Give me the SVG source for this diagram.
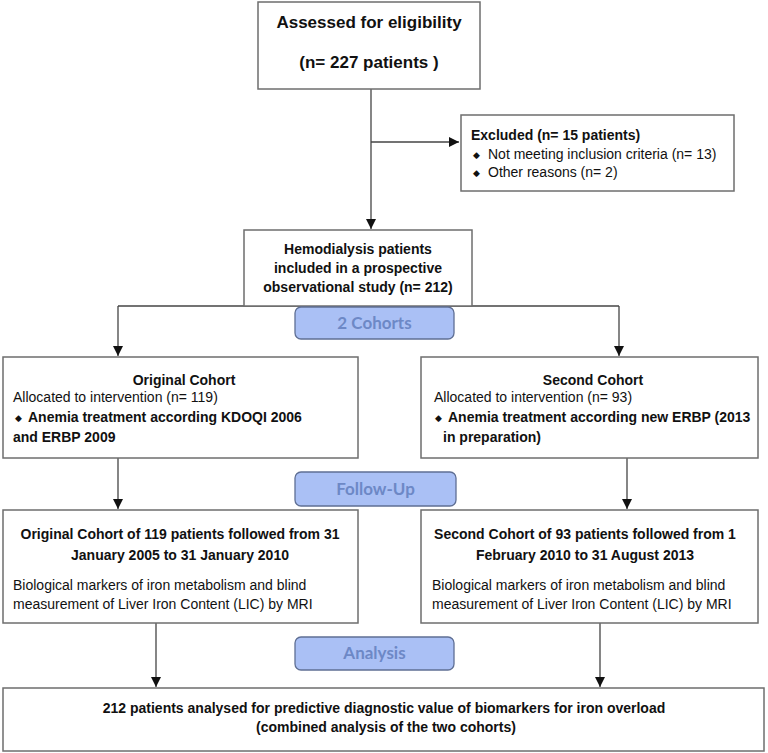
<svg xmlns="http://www.w3.org/2000/svg" width="768" height="753" viewBox="0 0 768 753">
<defs>
<marker id="ah" viewBox="0 0 10 10" refX="10" refY="5" markerWidth="10" markerHeight="10" markerUnits="userSpaceOnUse" orient="auto">
<path d="M0,0 L10,5 L0,10 Z" fill="#111"/>
</marker>
<style>
.box{fill:#fff;stroke:#6e6e6e;stroke-width:1.5}
.pill{fill:#aac0f5;stroke:#5f6f94;stroke-width:1.3}
.pt{font-family:Lato,"Open Sans",sans-serif;font-weight:bold;font-size:17px;fill:#6d88c6;text-anchor:middle}
.t{font-family:"Liberation Sans",Arial,sans-serif;font-size:14px;fill:#111}
.big{font-size:17px}
.bul{font-size:9px}
.b{font-weight:bold}
.c{text-anchor:middle}
.ln{fill:none;stroke:#444;stroke-width:1.3}
</style>
</defs>
<rect width="768" height="753" fill="#fff"/>
<g id="connectors">
<path class="ln" d="M371,89 V229" marker-end="url(#ah)"/>
<path class="ln" d="M371,142 H459" marker-end="url(#ah)"/>
<path class="ln" d="M118,306 H619"/>
<path class="ln" d="M118,306 V356" marker-end="url(#ah)"/>
<path class="ln" d="M619,306 V356" marker-end="url(#ah)"/>
<path class="ln" d="M118,458 V509" marker-end="url(#ah)"/>
<path class="ln" d="M627,458 V509" marker-end="url(#ah)"/>
<path class="ln" d="M156,623 V687" marker-end="url(#ah)"/>
<path class="ln" d="M600,623 V687" marker-end="url(#ah)"/>
</g>
<g id="assessed">
<rect class="box" x="258" y="2" width="222" height="87"/>
<text class="t b c big" x="369" y="28">Assessed for eligibility</text>
<text class="t b c big" x="369" y="68">(n= 227 patients )</text>
</g>
<g id="excluded">
<rect class="box" x="461" y="115" width="273" height="76"/>
<text class="t b" x="471" y="140">Excluded  (n= 15 patients)</text>
<text class="t bul" x="473" y="158">◆</text>
<text class="t" x="488" y="159">Not meeting inclusion criteria (n= 13)</text>
<text class="t bul" x="473" y="176">◆</text>
<text class="t" x="488" y="177">Other reasons (n= 2)</text>
</g>
<g id="hemodialysis">
<rect class="box" x="244" y="230" width="228" height="76"/>
<text class="t b c" x="358" y="254">Hemodialysis patients</text>
<text class="t b c" x="358" y="273">included in a prospective</text>
<text class="t b c" x="358" y="292">observational study (n= 212)</text>
</g>
<g id="cohorts-label">
<rect class="pill" x="295" y="307" width="159" height="32" rx="6"/>
<text class="pt" x="374.5" y="329">2 Cohorts</text>
</g>
<g id="original-cohort">
<rect class="box" x="3" y="357" width="355" height="101"/>
<text class="t b c" x="184" y="385">Original Cohort</text>
<text class="t" x="13" y="402">Allocated to intervention (n= 119)</text>
<text class="t bul" x="15" y="421">◆</text>
<text class="t b" x="28" y="422">Anemia treatment according KDOQI 2006</text>
<text class="t b" x="13" y="442">and ERBP 2009</text>
</g>
<g id="second-cohort">
<rect class="box" x="421" y="357" width="337" height="101"/>
<text class="t b c" x="593" y="385">Second Cohort</text>
<text class="t" x="434" y="402">Allocated to intervention (n= 93)</text>
<text class="t bul" x="435" y="421">◆</text>
<text class="t b" x="448" y="422">Anemia treatment according new ERBP (2013</text>
<text class="t b" x="443" y="442">in preparation)</text>
</g>
<g id="followup-label">
<rect class="pill" x="295" y="472" width="161" height="34" rx="6"/>
<text class="pt" x="375.5" y="495">Follow-Up</text>
</g>
<g id="original-followup">
<rect class="box" x="3" y="510" width="355" height="113"/>
<text class="t b c" x="180" y="539">Original Cohort of 119 patients followed from 31</text>
<text class="t b c" x="180" y="560">January 2005 to 31 January 2010</text>
<text class="t" x="13" y="590">Biological markers of iron metabolism and blind</text>
<text class="t" x="13" y="609">measurement of Liver Iron Content (LIC) by MRI</text>
</g>
<g id="second-followup">
<rect class="box" x="421" y="510" width="337" height="113"/>
<text class="t b c" x="585" y="539">Second Cohort of 93 patients followed from 1</text>
<text class="t b c" x="585" y="560">February 2010 to 31 August 2013</text>
<text class="t" x="432" y="590">Biological markers of iron metabolism and blind</text>
<text class="t" x="432" y="609">measurement of Liver Iron Content (LIC) by MRI</text>
</g>
<g id="analysis-label">
<rect class="pill" x="295" y="637" width="159" height="33" rx="6"/>
<text class="pt" x="374.5" y="659">Analysis</text>
</g>
<g id="combined-analysis">
<rect class="box" x="3" y="688" width="761" height="63"/>
<text class="t b c" x="384" y="713">212 patients analysed for predictive diagnostic value of biomarkers for iron overload</text>
<text class="t b c" x="386" y="732">(combined analysis of the two cohorts)</text>
</g>
</svg>
